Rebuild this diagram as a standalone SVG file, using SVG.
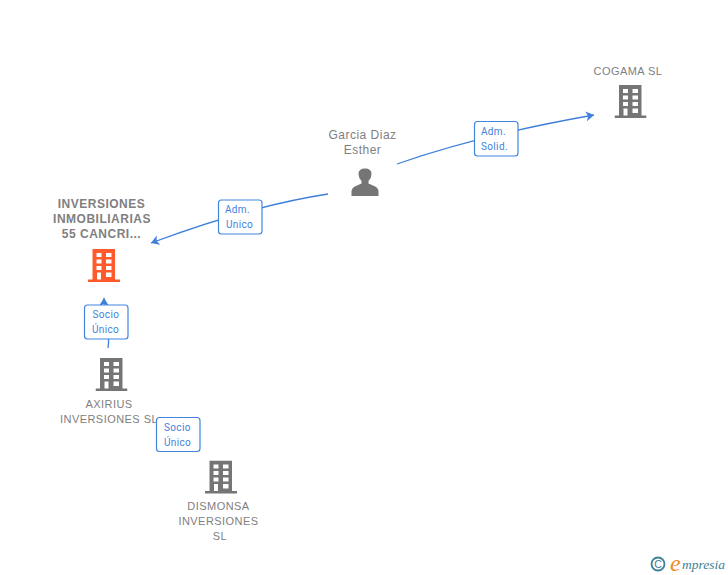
<svg xmlns="http://www.w3.org/2000/svg" width="728" height="575" viewBox="0 0 728 575">
<style>
.n{font:11px "Liberation Sans",Arial,sans-serif;fill:#808080;text-anchor:middle;letter-spacing:.45px}
.p{font-size:12px;letter-spacing:.5px}
.b{font-size:12px;font-weight:bold;letter-spacing:.5px}
.l{font:10px Roboto,"Liberation Sans",sans-serif;fill:#3f7fdc;letter-spacing:.35px}
.box{fill:#fff;stroke:#4285e0;stroke-width:1.2}
.c{fill:none;stroke:#3f7fdc;stroke-width:1.3}
</style>
<defs>
<marker id="a" markerWidth="12" markerHeight="12" refX="8" refY="5.500" orient="auto" markerUnits="userSpaceOnUse"><path d="M0 0.500L8 5.500L0 10.500L2 5.500Z" fill="#3f7fdc"/></marker>
<symbol id="bld" width="32" height="34" viewBox="0 0 32 34"><path fill-rule="evenodd" d="M4.500 0H27V30.500H32V33H0V30.500H4.500ZM8.500 4V8H13.500V4ZM18 4V8H23.500V4ZM8.500 10.500V14.500H13.500V10.500ZM18 10.500V14.500H23.500V10.500ZM8.500 17V21H13.500V17ZM18 17V21H23.500V17ZM9 23.500V30.500H13V23.500ZM18 23.500V28H23.500V23.500Z"/></symbol>
</defs>
<g id="connectors">
<path class="c" marker-end="url(#a)" d="M397 164Q480 135 594 115"/>
<path class="c" marker-end="url(#a)" d="M328 194Q250 206 151 243"/>
<path class="c" marker-end="url(#a)" d="M108 348C111 335 104 315 104 298"/>
</g>
<g id="n-cogama"><text class="n" x="628" y="75">COGAMA SL</text><use href="#bld" x="614.500" y="85" fill="#757575"/></g>
<g id="n-garcia"><text class="n p" x="362.500" y="139">Garcia Diaz</text><text class="n p" x="362.500" y="154">Esther</text>
<path fill="#757575" d="M351.500 196V191Q352 187 357 185.500L361.500 183.500V181Q358.500 178 358.500 174Q358.500 168.500 365 168.500Q371.500 168.500 371.500 174Q371.500 178 368.500 181V183.500L373 185.500Q378 187 378.500 191V196Z"/></g>
<g id="n-inversiones"><text class="n b" x="101.500" y="208">INVERSIONES</text><text class="n b" x="102" y="223">INMOBILIARIAS</text><text class="n b" x="101.500" y="238">55 CANCRI...</text><use href="#bld" x="88" y="249" fill="#ff5a2c"/></g>
<g id="n-axirius"><use href="#bld" x="95.500" y="358" fill="#757575"/><text class="n" x="109" y="408">AXIRIUS</text><text class="n" x="109" y="423">INVERSIONES SL</text></g>
<g id="n-dismonsa"><use href="#bld" x="205" y="460.500" fill="#757575"/><text class="n" x="218.500" y="510">DISMONSA</text><text class="n" x="218.500" y="525">INVERSIONES</text><text class="n" x="220" y="540">SL</text></g>
<g id="l-adm-solid"><rect class="box" x="474.500" y="121.500" width="43.500" height="34.500" rx="3"/><text class="l" x="481" y="135">Adm.</text><text class="l" x="481" y="150">Solid.</text></g>
<g id="l-adm-unico"><rect class="box" x="218.500" y="200" width="43.500" height="34" rx="3"/><text class="l" x="225" y="213">Adm.</text><text class="l" x="226" y="228">Unico</text></g>
<g id="l-socio1"><rect class="box" x="84.500" y="305" width="43.500" height="34" rx="3"/><text class="l" x="92.500" y="318">Socio</text><text class="l" x="92" y="333">Único</text></g>
<g id="l-socio2"><rect class="box" x="156.500" y="417.500" width="43.500" height="34" rx="3"/><text class="l" x="164" y="431">Socio</text><text class="l" x="164" y="446">Único</text></g>
<g id="logo"><circle cx="658" cy="564" r="6.500" fill="none" stroke="#3d7f94" stroke-width="1.800"/><text x="658" y="568" font-family="Liberation Sans,sans-serif" font-size="10.500" fill="#3d7f94" text-anchor="middle">C</text><text x="670" y="571" font-family="Liberation Serif,serif" font-style="italic" font-size="24" fill="#f08a1c">e</text><text x="682" y="569" font-family="Liberation Serif,serif" font-style="italic" font-size="13.500" fill="#3d7f94">mpresia</text></g>
</svg>
